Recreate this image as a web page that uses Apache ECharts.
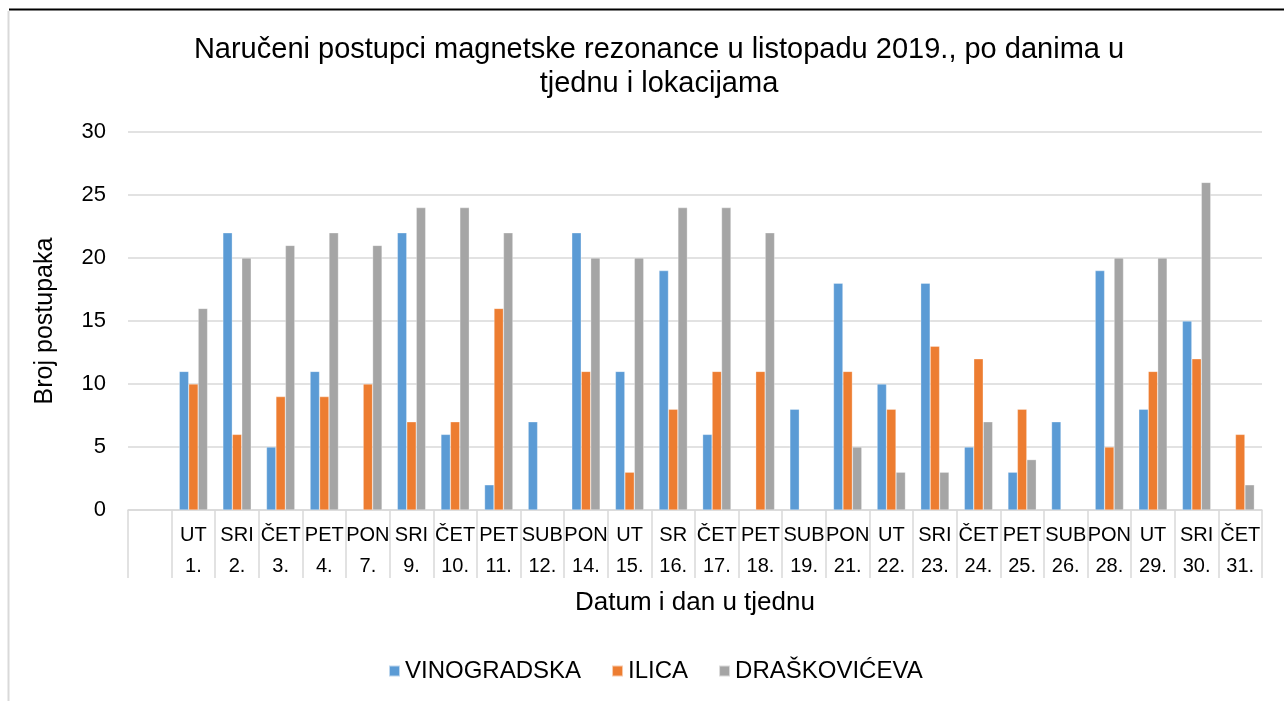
<!DOCTYPE html>
<html>
<head>
<meta charset="utf-8">
<title>Naručeni postupci magnetske rezonance</title>
<script src="https://cdn.jsdelivr.net/npm/echarts@6/dist/echarts.min.js"></script>
<style>
  html, body { margin: 0; padding: 0; background: #fff; }
  #chart { width: 1284px; height: 701px; }
</style>
</head>
<body>
<div id="chart"></div>
<script>
// first slot is empty in the source sheet
var days = ['', 'UT', 'SRI', 'ČET', 'PET', 'PON', 'SRI', 'ČET', 'PET', 'SUB', 'PON', 'UT', 'SR', 'ČET',
  'PET', 'SUB', 'PON', 'UT', 'SRI', 'ČET', 'PET', 'SUB', 'PON', 'UT', 'SRI', 'ČET']
var dates = ['', '1.', '2.', '3.', '4.', '7.', '9.', '10.', '11.', '12.', '14.', '15.', '16.', '17.',
  '18.', '19.', '21.', '22.', '23.', '24.', '25.', '26.', '28.', '29.', '30.', '31.']

var vinogradska = [null, 11, 22, 5, 11, null, 22, 6, 2, 7, 22, 11, 19, 6, null, 8, 18, 10, 18, 5, 3, 7, 19, 8, 15, null]
var ilica = [null, 10, 6, 9, 9, 10, 7, 7, 16, null, 11, 3, 8, 11, 11, null, 11, 8, 13, 12, 8, null, 5, 11, 12, 6]
var draskoviceva = [null, 16, 20, 21, 22, 21, 24, 24, 22, null, 20, 20, 24, 24, 22, null, 5, 3, 3, 7, 4, null, 20, 20, 26, 2]

var yTicks = { min: 0, max: 30, interval: 5 }

var categories = days.map(function(d, i) {
  return d + '\n' + dates[i]
})

var font = 'Liberation Sans, Arial, sans-serif'

var chart = echarts.init(document.getElementById('chart'))

function barSeries(name, data, color) {
  return {
    name: name,
    type: 'bar',
    data: data,
    barGap: '0%',
    barCategoryGap: '35%',
    itemStyle: { color: color, borderColor: 'rgba(255,255,255,0.6)', borderWidth: 0.5 }
  }
}

chart.setOption({
  animation: false,
  color: ['#5B9BD5', '#ED7D31', '#A5A5A5'],
  textStyle: { fontFamily: font, color: '#000' },
  graphic: [
    { type: 'line', shape: { x1: 9, y1: 9.5, x2: 1284, y2: 9.5 }, style: { stroke: '#000', lineWidth: 2 } },
    { type: 'line', shape: { x1: 8.5, y1: 11, x2: 8.5, y2: 701 }, style: { stroke: '#d9d9d9', lineWidth: 2 } }
  ],
  title: {
    text: 'Naručeni postupci magnetske rezonance u listopadu 2019., po danima u\ntjednu i lokacijama',
    left: 654,
    top: 28,
    textAlign: 'center',
    textStyle: { fontFamily: font, fontSize: 29, fontWeight: 'normal', color: '#000', lineHeight: 34 }
  },
  legend: {
    left: 383,
    top: 654,
    itemWidth: 11,
    itemHeight: 11,
    itemGap: 30,
    icon: 'rect',
    textStyle: { fontFamily: font, fontSize: 24, color: '#000' },
    data: ['VINOGRADSKA', 'ILICA', 'DRAŠKOVIĆEVA']
  },
  grid: { left: 128, right: 22, top: 132, bottom: 191 },
  xAxis: {
    type: 'category',
    data: categories,
    name: 'Datum i dan u tjednu',
    nameLocation: 'middle',
    nameGap: 80,
    nameTextStyle: { fontFamily: font, fontSize: 26, color: '#000' },
    axisLine: { lineStyle: { color: '#d9d9d9', width: 1.5 } },
    axisTick: { show: true, interval: 0, length: 68, lineStyle: { color: '#d9d9d9', width: 1.5 } },
    axisLabel: { interval: 0, margin: 10, fontSize: 20, lineHeight: 31, color: '#000' }
  },
  yAxis: {
    type: 'value',
    min: yTicks.min,
    max: yTicks.max,
    interval: yTicks.interval,
    name: 'Broj postupaka',
    nameLocation: 'middle',
    nameRotate: 90,
    nameGap: 70,
    nameTextStyle: { fontFamily: font, fontSize: 25, color: '#000' },
    axisLine: { show: false },
    axisTick: { show: false },
    axisLabel: { margin: 22, fontSize: 22, color: '#000' },
    splitLine: { lineStyle: { color: '#d9d9d9', width: 1.5 } }
  },
  series: [
    barSeries('VINOGRADSKA', vinogradska, '#5B9BD5'),
    barSeries('ILICA', ilica, '#ED7D31'),
    barSeries('DRAŠKOVIĆEVA', draskoviceva, '#A5A5A5')
  ]
})
</script>
</body>
</html>
